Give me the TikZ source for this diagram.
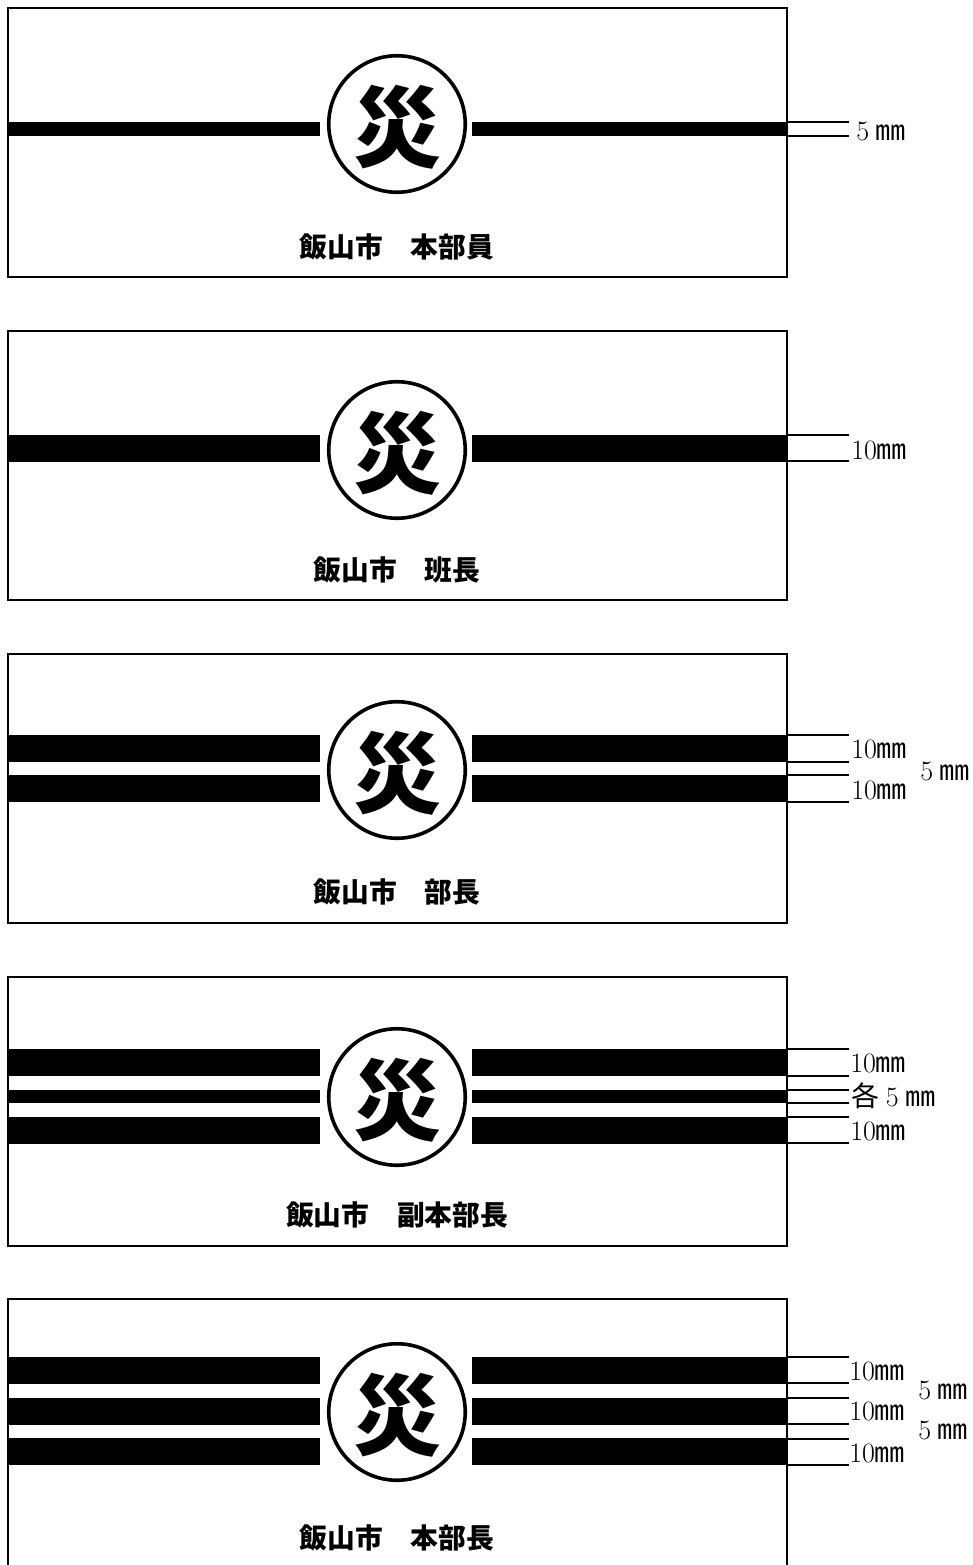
\documentclass[tikz,border=0pt]{standalone}
\usepackage{fontspec}
\newfontfamily\cjk{Noto Sans CJK JP}
\newcommand{\mmsym}{{\cjk\scalebox{1.08}[1]{㎜}}}
\newcommand{\gapsym}{\hspace{5pt}}
\newcommand{\saimark}{\raisebox{-2.2pt}[\height][\depth]{災}}
\begin{document}
\begin{tikzpicture}[x=0.75pt,y=-0.75pt,
    panelbox/.style={draw, line width=1.5pt},
    emblem/.style={draw, circle, fill=white, line width=2.7pt, minimum size=136.5*0.75pt, inner sep=0pt, font=\cjk\bfseries\fontsize{66}{66}\selectfont},
    title/.style={font=\cjk\bfseries\fontsize{20.8}{20.8}\selectfont, inner sep=0pt},
    size/.style={anchor=west, inner sep=0pt, font=\fontsize{21}{21}\selectfont},
    tick/.style={line width=0.85pt}]
    \useasboundingbox (0,0) rectangle (973,1565);
    % frames
    \foreach \ybox in {8,331,654,977,1299}
        \draw [panelbox] (8,\ybox) rectangle (787,\ybox+269);
    % bars
    \foreach \upper/\lower in {122/136,435/462,735/762,775/802,1049/1076,1090/1103,1117/1144,1357/1384,1398/1425,1438/1465} {
        \fill (8,\upper) rectangle (320,\lower);
        \fill (472,\upper) rectangle (787,\lower);
    }
    % ticks
    \foreach \y in {122,136,435,461,735,762,775,802,1049,1076,1090,1103,1117,1143,1357,1383,1398,1424,1439,1465}
        \draw [tick] (787,\y) -- (849,\y);
    % emblems
    \node [emblem] (markA) at (397,124) {\saimark};
    \node [emblem] (markB) at (397,450) {\saimark};
    \node [emblem] (markC) at (397,770) {\saimark};
    \node [emblem] (markD) at (397,1097) {\saimark};
    \node [emblem] (markE) at (397,1412) {\saimark};
    % titles
    \node [title] (titleA) at (397,247) {飯山市　本部員};
    \node [title] (titleB) at (397,570) {飯山市　班長};
    \node [title] (titleC) at (397,892) {飯山市　部長};
    \node [title] (titleD) at (397,1215) {飯山市　副本部長};
    \node [title] (titleE) at (397,1538) {飯山市　本部長};
    % sizes
    \node [size] (sizeA) at (856,131) {5\gapsym\mmsym};
    \node [size] (sizeB) at (851,450) {10\mmsym};
    \node [size] (sizeC1) at (851,749) {10\mmsym};
    \node [size] (sizeC2) at (851,790) {10\mmsym};
    \node [size] (gapC) at (920,771) {5\gapsym\mmsym};
    \node [size] (sizeD1) at (850,1063) {10\mmsym};
    \node [size] (sizeD2) at (851,1096) {{\cjk 各}\gapsym 5\gapsym\mmsym};
    \node [size] (sizeD3) at (850,1131) {10\mmsym};
    \node [size] (sizeE1) at (849,1371) {10\mmsym};
    \node [size] (sizeE2) at (849,1411) {10\mmsym};
    \node [size] (sizeE3) at (849,1453) {10\mmsym};
    \node [size] (gapE1) at (918,1390) {5\gapsym\mmsym};
    \node [size] (gapE2) at (918,1430) {5\gapsym\mmsym};
\end{tikzpicture}
\end{document}
